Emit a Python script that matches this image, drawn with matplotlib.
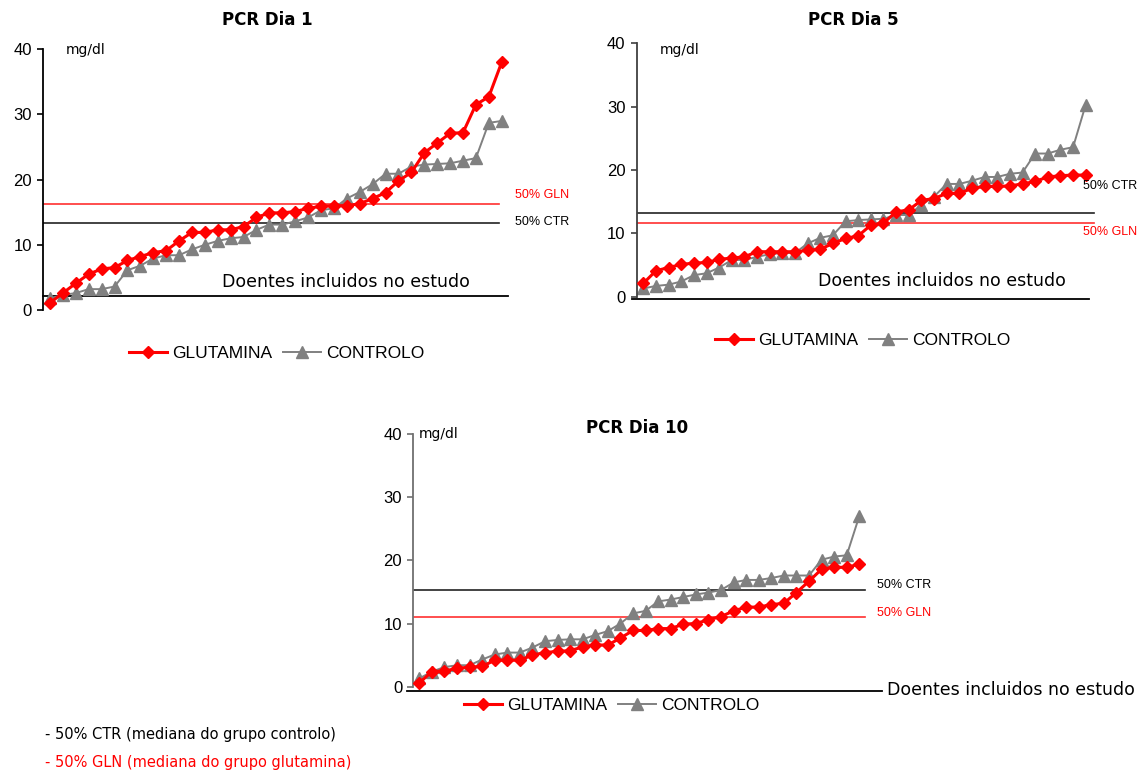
import matplotlib
matplotlib.use("Agg")
import matplotlib.pyplot as plt

# PCR (mg/dl) per patient, sorted ascending, for each day
patients = list(range(1, 37))

dia1_gln = [1.1, 2.6, 4.1, 5.5, 6.3, 6.5, 7.6, 8.2, 8.8, 9.1, 10.6, 11.9, 11.9, 12.3, 12.3, 12.8, 14.2, 14.9,
            14.9, 15.1, 15.6, 15.9, 16.0, 16.0, 16.3, 17.1, 18.0, 19.8, 21.1, 24.1, 25.6, 27.1, 27.2, 31.5, 32.7, 38.0]
dia1_ctr = [1.8, 2.3, 2.6, 3.2, 3.2, 3.6, 6.1, 6.8, 7.9, 8.4, 8.4, 9.3, 10.0, 10.6, 11.0, 11.2, 12.3, 13.1,
            13.1, 13.6, 14.2, 15.3, 15.6, 17.1, 18.1, 19.3, 20.9, 20.9, 22.0, 22.3, 22.4, 22.5, 22.9, 23.3, 28.7, 29.0]

dia5_gln = [2.1, 4.1, 4.6, 5.1, 5.3, 5.4, 5.9, 6.1, 6.3, 7.1, 7.1, 7.1, 7.1, 7.3, 7.5, 8.4, 9.2, 9.6,
            11.3, 11.6, 13.4, 13.7, 15.2, 15.5, 16.3, 16.3, 17.1, 17.4, 17.4, 17.5, 17.8, 18.2, 18.9, 19.1, 19.2, 19.2]
dia5_ctr = [1.3, 1.7, 1.9, 2.4, 3.4, 3.7, 4.6, 5.8, 5.8, 6.3, 6.7, 6.9, 6.9, 8.4, 9.3, 9.7, 11.9, 12.1,
            12.2, 12.3, 12.9, 12.9, 14.5, 15.8, 17.8, 17.8, 18.3, 18.9, 18.9, 19.4, 19.6, 22.6, 22.6, 23.2, 23.6, 30.3]

dia10_gln = [0.6, 2.4, 2.5, 2.9, 3.1, 3.2, 4.2, 4.2, 4.2, 5.0, 5.4, 5.6, 5.7, 6.3, 6.6, 6.6, 7.7, 8.9,
             8.9, 9.2, 9.2, 9.9, 10.0, 10.6, 11.1, 12.0, 12.6, 12.6, 13.0, 13.2, 14.9, 16.7, 18.6, 18.9, 18.9, 19.4]
dia10_ctr = [1.3, 2.4, 3.1, 3.4, 3.4, 4.3, 5.1, 5.4, 5.4, 6.2, 7.2, 7.4, 7.5, 7.5, 8.2, 8.8, 10.0, 11.6,
             12.0, 13.5, 13.8, 14.2, 14.6, 14.9, 15.3, 16.5, 16.9, 16.9, 17.2, 17.6, 17.6, 17.6, 20.1, 20.6, 20.8, 27.0]

# medians of each group (50% lines)
med_ctr = {"1": 13.4, "5": 13.2, "10": 15.3}
med_gln = {"1": 16.2, "5": 11.7, "10": 11.1}

y_ticks = [0, 10, 20, 30, 40]

W, H = 1142, 773
RED = "#ff0000"
GREY = "#808080"
COMIC = ["DejaVu Sans"]
ARIAL = ["Liberation Sans", "DejaVu Sans"]

plt.rcParams["font.family"] = ARIAL

fig = plt.figure(figsize=(W / 100, H / 100), dpi=100)
fig.patch.set_facecolor("white")


def fxy(px, py):
    return px / W, 1 - py / H


class Panel:
    """An axes placed by pixel: y-axis at left_px, first point at first_px."""

    def __init__(self, left_px, right_px, first_px, step_px, zero_py, unit_py):
        self.first_px = first_px
        self.step_px = step_px
        bottom_py = zero_py + 3 * unit_py
        top_py = zero_py - 40 * unit_py
        self.ax = fig.add_axes([left_px / W, 1 - bottom_py / H,
                                (right_px - left_px) / W, (bottom_py - top_py) / H])
        self.ax.set_xlim(self.xd(left_px), self.xd(right_px))
        self.ax.set_ylim(-3, 40)

    def xd(self, px):
        return 1 + (px - self.first_px) / self.step_px


def draw(panel, gln, ctr, m_ctr, m_gln, base_y, base_px, med_end_px, axis_col):
    ax = panel.ax
    for s in ["top", "right", "bottom"]:
        ax.spines[s].set_visible(False)
    ax.spines["left"].set_bounds(0, 40)
    ax.spines["left"].set_color(axis_col)
    ax.spines["left"].set_linewidth(1.3)
    ax.set_xticks([])
    ax.set_yticks(y_ticks)
    ax.tick_params(axis="y", direction="out", length=4, width=1.2, color=axis_col,
                   labelsize=12, pad=4)
    ax.patch.set_alpha(0)

    x0 = panel.xd(base_px[0])
    ax.plot([x0, panel.xd(base_px[1])], [base_y, base_y], color="black", lw=1.3,
            clip_on=False, zorder=1)
    xl = panel.xd(panel.first_px - 7)
    ax.plot([xl, panel.xd(med_end_px)], [m_ctr, m_ctr], color="#222222", lw=1.2, zorder=1)
    ax.plot([xl, panel.xd(med_end_px)], [m_gln, m_gln], color="#ff3030", lw=1.2, zorder=1)

    g, = ax.plot(patients, gln, color=RED, lw=2.2, marker="D", markersize=6.3,
                 markeredgecolor=RED, label="GLUTAMINA", zorder=3)
    c, = ax.plot(patients, ctr, color=GREY, lw=1.4, marker="^", markersize=8.5,
                 markeredgecolor=GREY, label="CONTROLO", zorder=2)
    return g, c


def legend(ax, cx, cy):
    ax.legend(loc="center", bbox_to_anchor=fxy(cx, cy), bbox_transform=fig.transFigure,
              ncol=2, frameon=False, fontsize=12.5, handlelength=2.2, handletextpad=0.3,
              columnspacing=0.6, borderpad=0)


# PCR Dia 1
p1 = Panel(43, 520, 50, 12.906, 310, 6.52)
draw(p1, dia1_gln, dia1_ctr, med_ctr["1"], med_gln["1"], 2.15, (43, 508), 499, "black")
legend(p1.ax, 277, 353)

# PCR Dia 5
p5 = Panel(636.7, 1100, 643.3, 12.64, 296.7, 6.335)
draw(p5, dia5_gln, dia5_ctr, med_ctr["5"], med_gln["5"], -0.4, (632, 1089), 1094, "#404040")
legend(p5.ax, 863, 340)

# PCR Dia 10
p10 = Panel(413.3, 885, 419.3, 12.571, 686.7, 6.3175)
draw(p10, dia10_gln, dia10_ctr, med_ctr["10"], med_gln["10"], -0.63, (406.7, 881.7), 865, "#707070")
legend(p10.ax, 612, 705)

# titles
for txt, cx, cy in [("PCR Dia 1", 267, 20), ("PCR Dia 5", 853, 20), ("PCR Dia 10", 637, 428)]:
    fig.text(*fxy(cx, cy), txt, ha="center", va="center", fontsize=12, fontweight="bold",
             family=COMIC)

# unit labels
for lx, ly in [(66, 50), (660, 50), (419, 434)]:
    fig.text(*fxy(lx, ly), "mg/dl", ha="left", va="center", fontsize=10, family=COMIC)

# x-axis captions
for lx, ly in [(222, 282), (818, 281), (887, 690)]:
    fig.text(*fxy(lx, ly), "Doentes incluidos no estudo", ha="left", va="center",
             fontsize=12.5, family=COMIC)

# median labels
for txt, col, lx, ly in [("50% GLN", RED, 515, 195), ("50% CTR", "black", 515, 222),
                         ("50% CTR", "black", 1083, 186), ("50% GLN", RED, 1083, 232),
                         ("50% CTR", "black", 877, 585), ("50% GLN", RED, 877, 613)]:
    fig.text(*fxy(lx, ly), txt, color=col, ha="left", va="center", fontsize=9)

# footnotes
fig.text(*fxy(45, 735), "- 50% CTR (mediana do grupo controlo)", ha="left", va="center",
         fontsize=10.5, family=COMIC)
fig.text(*fxy(45, 763), "- 50% GLN (mediana do grupo glutamina)", ha="left", va="center",
         fontsize=10.5, color=RED, family=COMIC)

fig.savefig("out.png", dpi=100)
